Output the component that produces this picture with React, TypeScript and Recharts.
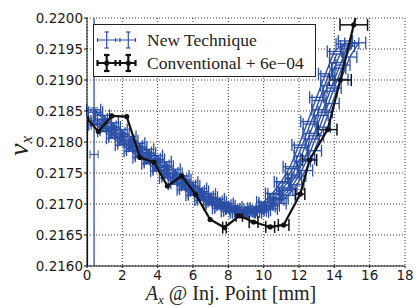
import { ComposedChart, Scatter, XAxis, YAxis, CartesianGrid, ErrorBar, Label } from "recharts";

const X_TICKS = [0, 2, 4, 6, 8, 10, 12, 14, 16, 18];
const Y_TICKS = [0.216, 0.2165, 0.217, 0.2175, 0.218, 0.2185, 0.219, 0.2195, 0.22];

const NEW_A_X = [0.5, 1, 1.5, 2, 2.5, 3, 3.5, 4, 4.5, 5, 5.5, 6, 6.5, 7, 7.5, 8, 8.5, 9, 9.5, 10, 10.5, 11, 11.5, 12, 12.5, 13, 13.5, 14, 14.5];
const NEW_A_Y = [0.21828, 0.21817, 0.21806, 0.21795, 0.21785, 0.21775, 0.21765, 0.21753, 0.21742, 0.21732, 0.21723, 0.21714, 0.21706, 0.21699, 0.21693, 0.21688, 0.21686, 0.21688, 0.21693, 0.21703, 0.21717, 0.21736, 0.2176, 0.21795, 0.21833, 0.21872, 0.2191, 0.21946, 0.21958];

const NEW_B_X = [0.625, 1.125, 1.625, 2.125, 2.625, 3.125, 3.625, 4.125, 4.625, 5.125, 5.625, 6.125, 6.625, 7.125, 7.625, 8.125, 8.625, 9.125, 9.625, 10.125, 10.625, 11.125, 11.625, 12.125, 12.625, 13.125, 13.625, 14.125, 14.625];
const NEW_B_Y = [0.21834, 0.21822, 0.21811, 0.218, 0.2179, 0.2178, 0.2177, 0.21759, 0.21747, 0.21737, 0.21727, 0.21718, 0.2171, 0.21702, 0.21696, 0.2169, 0.21687, 0.21686, 0.2169, 0.21698, 0.2171, 0.21726, 0.21747, 0.21777, 0.21814, 0.21852, 0.21891, 0.21928, 0.21963];

const NEW_C_X = [0.75, 1.25, 1.75, 2.25, 2.75, 3.25, 3.75, 4.25, 4.75, 5.25, 5.75, 6.25, 6.75, 7.25, 7.75, 8.25, 8.75, 9.25, 9.75, 10.25, 10.75, 11.25, 11.75, 12.25, 12.75, 13.25, 13.75, 14.25, 14.75];
const NEW_C_Y = [0.21837, 0.21825, 0.21814, 0.21803, 0.21793, 0.21783, 0.21773, 0.21762, 0.2175, 0.2174, 0.2173, 0.21721, 0.21712, 0.21704, 0.21698, 0.21692, 0.21688, 0.21686, 0.21689, 0.21696, 0.21707, 0.21722, 0.21742, 0.21769, 0.21805, 0.21843, 0.21882, 0.21919, 0.21955];

const NEW_D_X = [0.375, 0.875, 1.375, 1.875, 2.375, 2.875, 3.375, 3.875, 4.375, 4.875, 5.375, 5.875, 6.375, 6.875, 7.375, 7.875, 8.375, 8.875, 9.375, 9.875, 10.375, 10.875, 11.375, 11.875, 12.375, 12.875, 13.375, 13.875, 14.375, 14.875, 15.375];
const NEW_D_Y = [0.21852, 0.21843, 0.21831, 0.2182, 0.21809, 0.21798, 0.21788, 0.21778, 0.21768, 0.21756, 0.21745, 0.21735, 0.21725, 0.21716, 0.21708, 0.21701, 0.21695, 0.21689, 0.21687, 0.21687, 0.21692, 0.21701, 0.21714, 0.21731, 0.21754, 0.21786, 0.21824, 0.21862, 0.21901, 0.21937, 0.2196];

const NEW_E_X = [0.6375, 1.1375, 1.6375, 2.1375, 2.6375, 3.1375, 3.6375, 4.1375, 4.6375, 5.1375, 5.6375, 6.1375, 6.6375, 7.1375, 7.6375, 8.1375, 8.6375, 9.1375, 9.6375, 10.1375, 10.6375, 11.1375, 11.6375, 12.1375, 12.6375, 13.1375, 13.6375, 14.1375];
const NEW_E_Y = [0.2183, 0.21819, 0.21808, 0.21797, 0.21787, 0.21777, 0.21767, 0.21755, 0.21744, 0.21734, 0.21724, 0.21715, 0.21707, 0.217, 0.21694, 0.21689, 0.21686, 0.21688, 0.21693, 0.21702, 0.21716, 0.21734, 0.21757, 0.21791, 0.21829, 0.21867, 0.21906, 0.21942];

const NEW_F_X = [0.4875, 0.9875, 1.4875, 1.9875, 2.4875, 2.9875, 3.4875, 3.9875, 4.4875, 4.9875, 5.4875, 5.9875, 6.4875, 6.9875, 7.4875, 7.9875, 8.4875, 8.9875, 9.4875, 9.9875, 10.4875, 10.9875, 11.4875, 11.9875, 12.4875, 12.9875, 13.4875, 13.9875, 14.4875, 14.9875];
const NEW_F_Y = [0.21848, 0.21836, 0.21824, 0.21813, 0.21802, 0.21792, 0.21782, 0.21772, 0.21761, 0.21749, 0.21739, 0.21729, 0.2172, 0.21711, 0.21703, 0.21697, 0.21691, 0.21688, 0.21686, 0.2169, 0.21697, 0.21709, 0.21724, 0.21745, 0.21773, 0.2181, 0.21848, 0.21887, 0.21924, 0.21959];

const NEW_XERR = 0.4;

// stray scan points at x = 0.4 (one runs over the full height)
const EDGE_LINE_X = [0.4, 0.4];
const EDGE_LINE_Y = [0.216, 0.22];
const EDGE_V_X = [0.4, 0.4];
const EDGE_V_Y = [0.21841, 0.21841];
const EDGE_V_ERR = [0.00014, 0.00009];
const EDGE_H_X = [0.4];
const EDGE_H_Y = [0.2178];
const EDGE_H_ERR = [0.23];

// Conventional (+6e-04 offset already applied); first/last entries are where the line leaves the axes
const CONV_X = [0, 0, 0.64, 1.4, 2.25, 3.0, 3.8, 4.55, 5.37, 6.16, 6.97, 7.78, 8.62, 9.43, 10.37, 11.13, 12.07, 12.6, 13.62, 14.34, 15.1, 15.2];
const CONV_Y = [0.216, 0.21838, 0.21817, 0.21842, 0.21841, 0.21775, 0.21767, 0.21729, 0.21745, 0.21715, 0.21675, 0.21662, 0.21681, 0.21671, 0.21663, 0.21666, 0.21716, 0.21771, 0.2182, 0.219, 0.21989, 0.22];
const CONV_XERR = [0, 0, 0, 0, 0, 0, 0, 0, 0, 0, 0, 0.1, 0.18, 0.25, 0.25, 0.3, 0.26, 0.4, 0.53, 0.62, 0.78, 0];
const CONV_MARKER = [0, 1, 1, 1, 1, 1, 1, 1, 1, 1, 1, 1, 1, 1, 1, 1, 1, 1, 1, 1, 1, 0];

const BLUE = "#2c4fa6";
const SERIF = "'Liberation Serif', 'DejaVu Serif', serif";

const rows = (xs: number[], ys: number[], err: number | number[], marks?: number[]) =>
  xs.map((x, i) => ({ x, y: ys[i], e: Array.isArray(err) ? err[i] : err, m: marks ? marks[i] : 0 }));

const noDot = () => <g />;
const blackDot = (p: any) =>
  p.payload && p.payload.m ? <circle cx={p.cx} cy={p.cy} r={2.6} fill="#111" /> : <g />;

const XLabel = () => (
  <text x={231} y={300} textAnchor="middle" fontFamily={SERIF} fontSize={20} fill="#222">
    <tspan fontStyle="italic">A</tspan>
    <tspan fontStyle="italic" fontSize={13} dy={4}>x</tspan>
    <tspan dy={-4}> @ Inj. Point [mm]</tspan>
  </text>
);

const YLabel = () => (
  <g transform="translate(28,146) rotate(-90)">
    <text x={0} y={0} textAnchor="middle" fontFamily={SERIF} fontSize={28} fill="#222">
      <tspan fontStyle="italic">ν</tspan>
      <tspan fontStyle="italic" fontSize={17} dy={4}>x</tspan>
    </text>
  </g>
);

function LegendBox() {
  return (
    <svg width={224} height={54} style={{ position: "absolute", left: 93, top: 24 }}>
      <rect x={0.5} y={0.5} width={222} height={52} fill="#fff" stroke="#222" />
      <g stroke={BLUE} strokeWidth={1.2}>
        <line x1={4} y1={16} x2={43} y2={16} />
        <line x1={13.7} y1={8} x2={13.7} y2={24} />
        <line x1={35.3} y1={8} x2={35.3} y2={24} />
        <line x1={11.5} y1={8} x2={16} y2={8} />
        <line x1={11.5} y1={24} x2={16} y2={24} />
        <line x1={33} y1={8} x2={37.5} y2={8} />
        <line x1={33} y1={24} x2={37.5} y2={24} />
        <line x1={4.5} y1={14} x2={4.5} y2={18} />
        <line x1={22.5} y1={14} x2={22.5} y2={18} />
        <line x1={27} y1={14} x2={27} y2={18} />
        <line x1={42.5} y1={14} x2={42.5} y2={18} />
      </g>
      <g stroke="#111" strokeWidth={2.2}>
        <line x1={4} y1={39} x2={43} y2={39} />
        <line x1={13.7} y1={31} x2={13.7} y2={47} />
        <line x1={35.3} y1={31} x2={35.3} y2={47} />
        <line x1={11} y1={31} x2={16.5} y2={31} />
        <line x1={11} y1={47} x2={16.5} y2={47} />
        <line x1={32.5} y1={31} x2={38} y2={31} />
        <line x1={32.5} y1={47} x2={38} y2={47} />
        <line x1={4.5} y1={36} x2={4.5} y2={42} />
        <line x1={22.5} y1={36} x2={22.5} y2={42} />
        <line x1={27} y1={36} x2={27} y2={42} />
        <line x1={42.5} y1={36} x2={42.5} y2={42} />
      </g>
      <circle cx={13.7} cy={39} r={2.6} fill="#111" />
      <circle cx={35.3} cy={39} r={2.6} fill="#111" />
      <text x={54} y={22} fontFamily={SERIF} fontSize={17.5} fill="#222">New Technique</text>
      <text x={54} y={45} fontFamily={SERIF} fontSize={17.5} fill="#222">Conventional + 6e−04</text>
    </svg>
  );
}

const tickStyle = { fill: "#1a1a1a", fontSize: 13.5, fontFamily: "'DejaVu Sans', sans-serif" };

export default function App() {
  const blueSets = [
    rows(NEW_A_X, NEW_A_Y, NEW_XERR),
    rows(NEW_B_X, NEW_B_Y, NEW_XERR),
    rows(NEW_C_X, NEW_C_Y, NEW_XERR),
    rows(NEW_D_X, NEW_D_Y, NEW_XERR),
    rows(NEW_E_X, NEW_E_Y, NEW_XERR),
    rows(NEW_F_X, NEW_F_Y, NEW_XERR),
  ];
  return (
    <div style={{ position: "absolute", left: 0, top: 0, width: 417, height: 307, background: "#fff" }}>
      <ComposedChart width={417} height={307} margin={{ top: 18, right: 12, bottom: 0, left: 0 }}>
        <CartesianGrid stroke="#222" strokeDasharray="1 2" strokeWidth={0.9} />
        <XAxis
          type="number"
          dataKey="x"
          domain={[0, 18]}
          ticks={X_TICKS}
          interval={0}
          allowDataOverflow
          height={41}
          tickSize={2}
          tickMargin={2}
          tick={tickStyle}
          axisLine={{ stroke: "#111" }}
          tickLine={{ stroke: "#111" }}
        >
          <Label content={XLabel} />
        </XAxis>
        <XAxis
          xAxisId="top"
          orientation="top"
          type="number"
          domain={[0, 18]}
          ticks={X_TICKS}
          interval={0}
          height={0}
          mirror
          tick={false}
          tickSize={4}
          axisLine={{ stroke: "#111" }}
          tickLine={{ stroke: "#111" }}
        />
        <YAxis
          type="number"
          dataKey="y"
          domain={[0.216, 0.22]}
          ticks={Y_TICKS}
          interval={0}
          allowDataOverflow
          width={87}
          tickSize={3}
          tickMargin={1}
          tick={tickStyle}
          tickFormatter={(v: number) => v.toFixed(4)}
          axisLine={{ stroke: "#111" }}
          tickLine={{ stroke: "#111" }}
        >
          <Label content={YLabel} />
        </YAxis>
        <YAxis
          yAxisId="right"
          orientation="right"
          type="number"
          domain={[0.216, 0.22]}
          ticks={Y_TICKS}
          interval={0}
          width={0}
          mirror
          tick={false}
          tickSize={4}
          axisLine={{ stroke: "#111" }}
          tickLine={{ stroke: "#111" }}
        />

        {blueSets.map((d, i) => (
          <Scatter
            key={i}
            data={d}
            line={{ stroke: BLUE, strokeWidth: 1.4 }}
            shape={noDot}
            isAnimationActive={false}
          >
            <ErrorBar dataKey="e" direction="x" width={6} stroke={BLUE} strokeWidth={1.3} />
          </Scatter>
        ))}
        <Scatter
          data={rows(EDGE_LINE_X, EDGE_LINE_Y, 0)}
          line={{ stroke: BLUE, strokeWidth: 1.3 }}
          shape={noDot}
          isAnimationActive={false}
        />
        <Scatter data={rows(EDGE_V_X, EDGE_V_Y, EDGE_V_ERR)} shape={noDot} isAnimationActive={false}>
          <ErrorBar dataKey="e" direction="y" width={4} stroke={BLUE} strokeWidth={1} />
        </Scatter>
        <Scatter data={rows(EDGE_H_X, EDGE_H_Y, EDGE_H_ERR)} shape={noDot} isAnimationActive={false}>
          <ErrorBar dataKey="e" direction="x" width={4} stroke={BLUE} strokeWidth={1} />
        </Scatter>

        <Scatter
          data={rows(CONV_X, CONV_Y, CONV_XERR, CONV_MARKER)}
          line={{ stroke: "#111", strokeWidth: 2.2 }}
          shape={blackDot}
          isAnimationActive={false}
        >
          <ErrorBar dataKey="e" direction="x" width={6} stroke="#111" strokeWidth={1.5} />
        </Scatter>
      </ComposedChart>
      <LegendBox />
    </div>
  );
}
